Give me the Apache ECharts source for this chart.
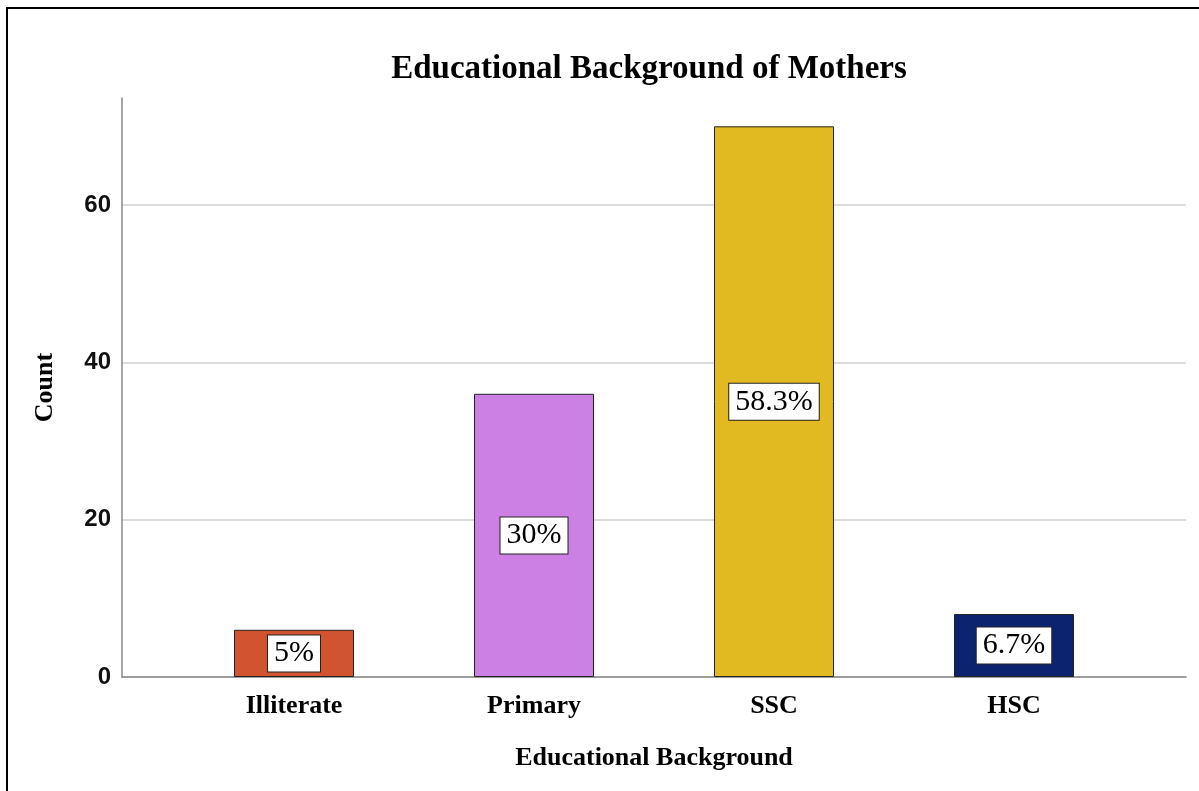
<!DOCTYPE html>
<html>
<head>
<meta charset="utf-8">
<script src="https://cdn.jsdelivr.net/npm/echarts@6/dist/echarts.min.js"></script>
<style>
  html, body { margin: 0; padding: 0; background: #fff; }
  #wrap { position: relative; width: 1199px; height: 791px; overflow: hidden; }
  #chart { position: absolute; left: 0; top: 0; width: 1199px; height: 791px; }
  #frame { position: absolute; left: 6px; top: 7px; width: 1300px; height: 900px;
    border-left: 2px solid #000; border-top: 2px solid #000; pointer-events: none; }
</style>
</head>
<body>
<div id="wrap">
  <div id="chart"></div>
  <div id="frame"></div>
</div>
<script>
const categories = ['Illiterate', 'Primary', 'SSC', 'HSC']
const counts = [6, 36, 70, 8]
const percentLabels = ['5%', '30%', '58.3%', '6.7%']
const barColors = ['#D2532F', '#CC80E3', '#E1BA21', '#0C2470']
const yTicks = [0, 20, 40, 60]

const serif = '"Liberation Serif", "Times New Roman", serif'
const sans = '"Liberation Sans", Arial, sans-serif'

const chart = echarts.init(document.getElementById('chart'))

const barData = counts.map((v, i) => ({
  value: [i, v],
  itemStyle: { color: barColors[i] },
}))

chart.setOption({
  animation: false,
  title: {
    text: 'Educational Background of Mothers',
    left: 644,
    top: 48,
    textAlign: 'center',
    textStyle: { fontFamily: serif, fontWeight: 'bold', fontSize: 33, color: '#000' },
  },
  grid: { left: 122, right: 13, top: 98, bottom: 114, containLabel: false },
  xAxis: {
    type: 'value',
    min: -0.7167,
    max: 3.7167,
    minInterval: 1,
    maxInterval: 1,
    name: 'Educational Background',
    nameLocation: 'middle',
    nameGap: 68,
    nameTextStyle: { fontFamily: serif, fontWeight: 'bold', fontSize: 26, color: '#000' },
    axisLine: { show: true, onZero: false, lineStyle: { color: '#888', width: 1.5 } },
    axisTick: { show: false },
    splitLine: { show: false },
    axisLabel: {
      margin: 16,
      fontFamily: serif,
      fontWeight: 'bold',
      fontSize: 26,
      color: '#000',
      formatter: (v) => {
        const i = Math.round(v)
        return Math.abs(v - i) < 1e-6 && categories[i] ? categories[i] : ''
      },
    },
  },
  yAxis: {
    type: 'value',
    min: 0,
    max: 73.6,
    interval: 20,
    name: 'Count',
    nameLocation: 'middle',
    nameRotate: 90,
    nameGap: 64,
    nameTextStyle: { fontFamily: serif, fontWeight: 'bold', fontSize: 26, color: '#000' },
    axisLine: { show: true, onZero: false, lineStyle: { color: '#888', width: 1.5 } },
    axisTick: { show: false },
    splitLine: { show: true, showMaxLine: false, lineStyle: { color: '#d0d0d0', width: 1.5 } },
    axisLabel: {
      margin: 11,
      fontFamily: sans,
      fontWeight: 'bold',
      fontSize: 24,
      color: '#111',
      padding: [4, 0, 0, 0],
      formatter: (v) => (yTicks.includes(v) ? String(v) : ''),
    },
  },
  series: [
    {
      type: 'bar',
      data: barData,
      barWidth: 120,
      itemStyle: { borderColor: '#222', borderWidth: 1 },
      label: {
        show: true,
        position: 'inside',
        formatter: (p) => percentLabels[p.dataIndex],
        fontFamily: serif,
        fontSize: 30,
        color: '#000',
        backgroundColor: '#fff',
        borderColor: '#222',
        borderWidth: 1,
        padding: [3, 6, 1, 6],
        lineHeight: 32,
      },
    },
  ],
})
</script>
</body>
</html>
